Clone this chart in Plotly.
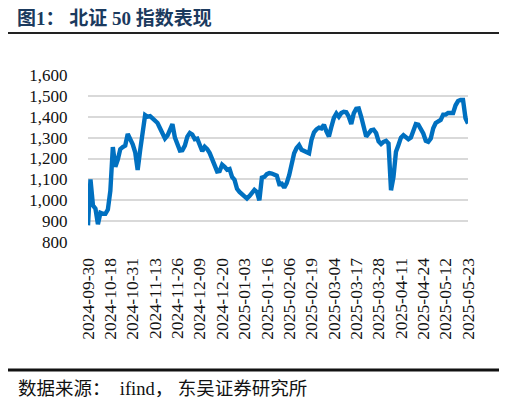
import pandas as pd
import plotly.graph_objects as go

# A-share trading days between 2024-09-30 and 2025-05-23
holidays = pd.to_datetime([
    '2024-10-01', '2024-10-02', '2024-10-03', '2024-10-04', '2024-10-07',
    '2025-01-01', '2025-01-28', '2025-01-29', '2025-01-30', '2025-01-31',
    '2025-02-03', '2025-02-04', '2025-04-04', '2025-05-01', '2025-05-02',
    '2025-05-05',
])
days = pd.bdate_range('2024-09-30', '2025-05-23')
dates = [d.strftime('%Y-%m-%d') for d in days if d not in holidays]

# BSE 50 index close
bse50 = [
    880, 1100, 975, 960, 885, 940, 935, 935, 955, 1045,
    1255, 1160, 1195, 1245, 1255, 1262, 1318, 1295, 1268, 1230,
    1145, 1240, 1328, 1408, 1400, 1403, 1392, 1380, 1370, 1345,
    1320, 1296, 1310, 1345, 1365, 1300, 1275, 1238, 1240, 1262,
    1305, 1322, 1315, 1292, 1295, 1265, 1235, 1256, 1245, 1226,
    1200, 1170, 1138, 1140, 1170, 1160, 1146, 1150, 1112, 1098,
    1055, 1040, 1030, 1020, 1008, 1020, 1035, 1050, 1040, 1000,
    1108, 1112, 1125, 1130, 1128, 1122, 1118, 1078, 1080, 1060,
    1082, 1120, 1176, 1225, 1250, 1264, 1242, 1236, 1232, 1225,
    1290, 1325, 1340, 1348, 1344, 1362, 1330, 1305, 1352, 1395,
    1416, 1400, 1418, 1424, 1422, 1400, 1365, 1416, 1438, 1440,
    1400, 1360, 1305, 1320, 1335, 1338, 1322, 1282, 1270, 1280,
    1285, 1272, 1048, 1112, 1232, 1265, 1300, 1312, 1304, 1292,
    1300, 1328, 1365, 1362, 1345, 1320, 1285, 1280, 1296, 1345,
    1370, 1376, 1385, 1410, 1410, 1418, 1418, 1418, 1455, 1475,
    1480, 1480, 1392, 1368,
]

tick_labels = dates[::9]

serif = 'Liberation Serif, Noto Sans CJK SC'

fig = go.Figure()
fig.add_trace(go.Scatter(x=dates, y=bse50, mode='lines',
                         line=dict(color='#0070C0', width=4.4)))

# the page body adds an 8px margin, so the figure is laid out 8px up/left
fig.update_layout(
    width=499, height=394,
    margin=dict(l=80, r=39, t=67, b=160),
    paper_bgcolor='white', plot_bgcolor='white',
    showlegend=False,
    font=dict(family=serif, size=17, color='#111111'),
    title=dict(text='<b>图1： 北证 50 指数表现</b>', x=9 / 499, xanchor='left',
               y=1 - 10.5 / 394, yanchor='middle',
               font=dict(family=serif, size=19, color='#1B3A5E')),
    xaxis=dict(type='category', range=[0, len(dates) - 1],
               tickmode='array', tickvals=tick_labels, ticktext=tick_labels,
               tickangle=-90, showgrid=False, showline=False, zeroline=False,
               ticks='outside', ticklen=8, tickcolor='rgba(0,0,0,0)',
               tickfont=dict(family=serif, size=17.5)),
    yaxis=dict(range=[800, 1600], dtick=100, tickformat=',',
               showgrid=True, gridcolor='#D9D9D9', gridwidth=1.5,
               showline=False, zeroline=False,
               ticks='outside', ticklen=16, tickcolor='rgba(0,0,0,0)',
               tickfont=dict(family=serif, size=17)),
    shapes=[
        dict(type='line', xref='paper', yref='paper',
             x0=(5 - 88) / 380, x1=(502 - 88) / 380,
             y0=(242 - 33) / 167, y1=(242 - 33) / 167,
             line=dict(color='#222222', width=2)),
        dict(type='line', xref='paper', yref='paper',
             x0=(5 - 88) / 380, x1=(502 - 88) / 380,
             y0=(242 - 370) / 167, y1=(242 - 370) / 167,
             line=dict(color='#111111', width=3)),
    ],
    annotations=[
        dict(text='数据来源：  ifind， 东吴证券研究所', xref='paper', yref='paper',
             x=(16 - 88) / 380, y=(242 - 389) / 167, xanchor='left',
             yanchor='middle', showarrow=False,
             font=dict(family=serif, size=18.5, color='#111111')),
    ],
)

fig.write_html('out.html')
